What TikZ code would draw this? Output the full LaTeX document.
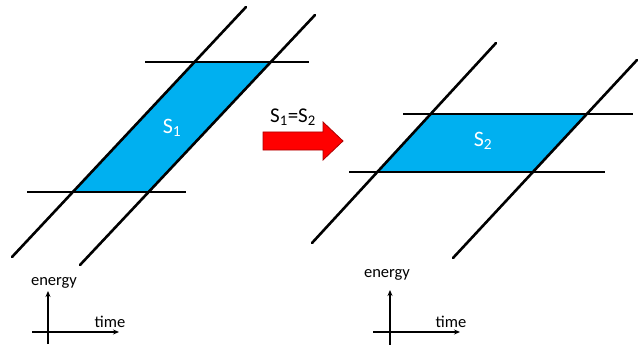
\documentclass[tikz,border=0pt]{standalone}
\usepackage{fontspec}
\setmainfont{Carlito}
\usetikzlibrary{arrows.meta}
\definecolor{areablue}{RGB}{0,176,240}
\definecolor{arrred}{RGB}{255,0,0}
\definecolor{arrdark}{RGB}{170,0,0}
\tikzset{
  wline/.style={line width=2.6pt, line cap=round, black},
  hline/.style={line width=2.3pt, black},
  axis/.style={line width=1.4pt, -{Stealth[length=6pt,width=5pt]}},
  axlabel/.style={font=\fontsize{16.5}{18}\selectfont, inner sep=0pt},
  arealabel/.style={font=\fontsize{22}{24}\selectfont, text=white, inner sep=0pt},
}
\begin{document}
\begin{tikzpicture}[x=1pt,y=-1pt]
\useasboundingbox (0,0) rectangle (638,345);
% ---- left diagram ----
\coordinate (a1) at (12,257); \coordinate (a2) at (246,7);
\coordinate (b1) at (80,265); \coordinate (b2) at (315,15);
\coordinate (t1) at (145,62); \coordinate (t2) at (309,62);
\coordinate (u1) at (27,192); \coordinate (u2) at (186,192);
\coordinate (p1) at (intersection of a1--a2 and t1--t2);
\coordinate (p2) at (intersection of b1--b2 and t1--t2);
\coordinate (p3) at (intersection of b1--b2 and u1--u2);
\coordinate (p4) at (intersection of a1--a2 and u1--u2);
\fill[areablue] (p1) -- (p2) -- (p3) -- (p4) -- cycle;
\draw[wline] (a1) -- (a2);
\draw[wline] (b1) -- (b2);
\draw[hline] (t1) -- (t2);
\draw[hline] (u1) -- (u2);
\node[arealabel] (s1) at (172,128) {S\textsubscript{1}};
% ---- arrow ----
\node[font=\fontsize{21}{24}\selectfont, inner sep=0pt] (eq) at (293,117) {S\textsubscript{1}=S\textsubscript{2}};
\filldraw[fill=arrred, draw=arrdark, line width=0.8pt]
  (263,132) -- (323,132) -- (323,122) -- (343,141) -- (323,160) -- (323,150) -- (263,150) -- cycle;
% ---- right diagram ----
\coordinate (c1) at (312,243); \coordinate (c2) at (496,43);
\coordinate (d1) at (453,258); \coordinate (d2) at (637,60);
\coordinate (r1) at (403,114); \coordinate (r2) at (633,114);
\coordinate (v1) at (349,172); \coordinate (v2) at (605,172);
\coordinate (q1) at (intersection of c1--c2 and r1--r2);
\coordinate (q2) at (intersection of d1--d2 and r1--r2);
\coordinate (q3) at (intersection of d1--d2 and v1--v2);
\coordinate (q4) at (intersection of c1--c2 and v1--v2);
\fill[areablue] (q1) -- (q2) -- (q3) -- (q4) -- cycle;
\draw[wline] (c1) -- (c2);
\draw[wline] (d1) -- (d2);
\draw[hline] (r1) -- (r2);
\draw[hline] (v1) -- (v2);
\node[arealabel] (s2) at (483,141) {S\textsubscript{2}};
% ---- axes left ----
\coordinate (lo1) at (48,344); \coordinate (le1) at (48,291);
\coordinate (lh1) at (32,332); \coordinate (lt1) at (119,332);
\draw[axis] (lo1) -- (le1);
\draw[axis] (lh1) -- (lt1);
\node[axlabel] (en1) at (54,283) {energy};
\node[axlabel] (ti1) at (110,322) {time};
% ---- axes right ----
\coordinate (lo2) at (390,345); \coordinate (le2) at (390,290);
\coordinate (lh2) at (373,332); \coordinate (lt2) at (460,332);
\draw[axis] (lo2) -- (le2);
\draw[axis] (lh2) -- (lt2);
\node[axlabel] (en2) at (387,275) {energy};
\node[axlabel] (ti2) at (451,322) {time};
\end{tikzpicture}
\end{document}
